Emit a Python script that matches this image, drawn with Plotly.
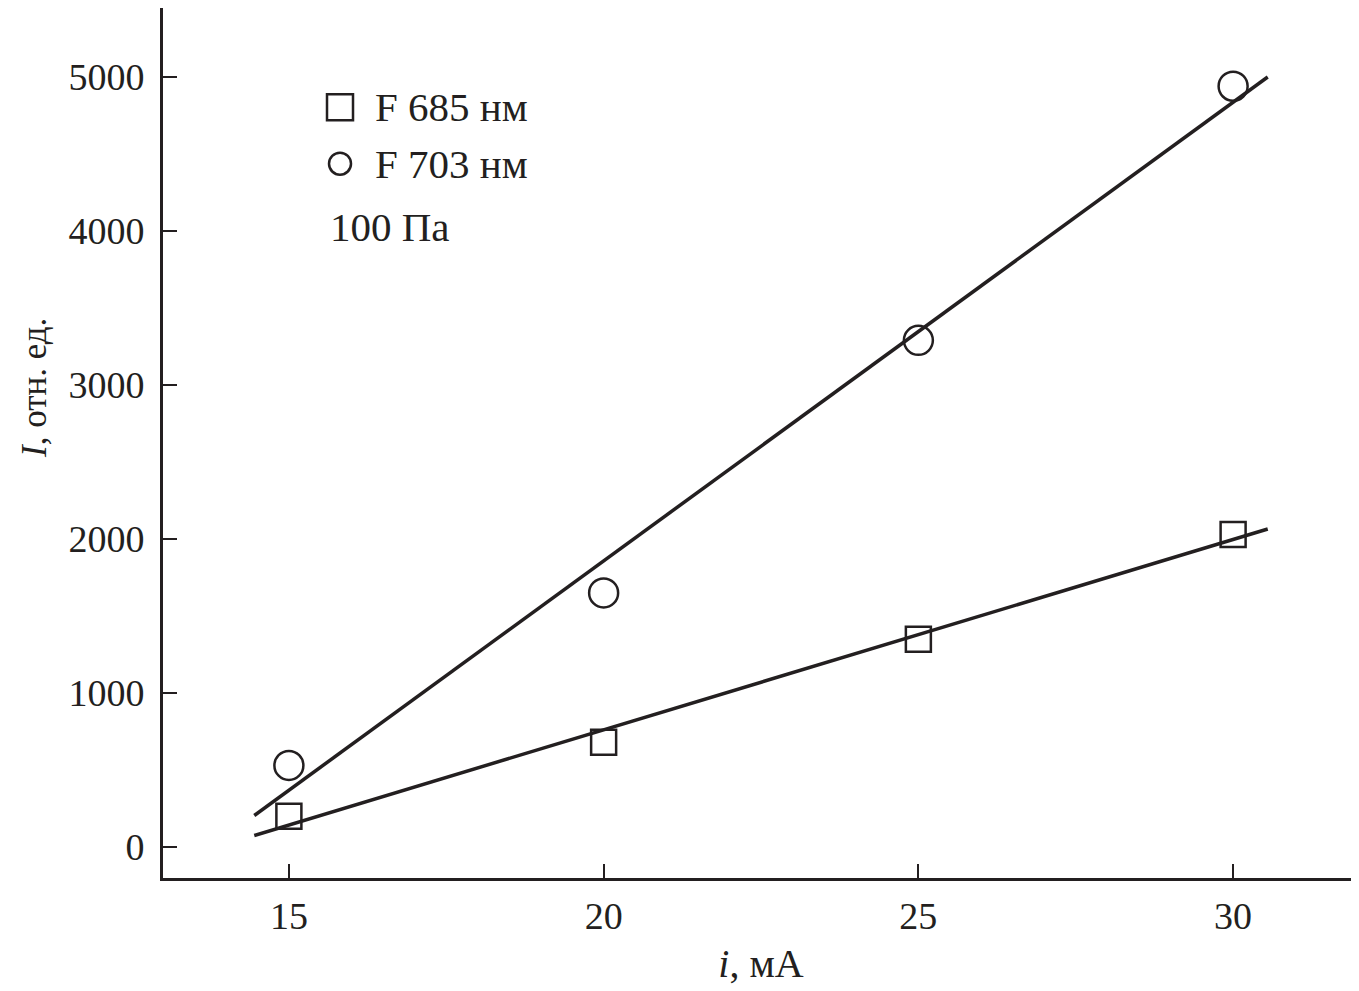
import plotly.graph_objects as go

# measured points
current = [15, 20, 25, 30]
f685 = [200, 680, 1350, 2030]
f703 = [530, 1650, 3290, 4940]

# fitted straight lines (end points)
fit_x = [14.45, 30.55]
fit685 = [75, 2065]
fit703 = [205, 5000]

x_ticks = [15, 20, 25, 30]
y_ticks = [0, 1000, 2000, 3000, 4000, 5000]

legend_labels = ["F 685 нм", "F 703 нм"]
note = "100 Па"

FONT = "Liberation Serif"
INK = "#231f20"

fig = go.Figure()

# FIT LINES
for fy in (fit703, fit685):
    fig.add_trace(
        go.Scatter(
            x=fit_x,
            y=fy,
            mode="lines",
            line=dict(color=INK, width=3.5),
            showlegend=False
        )
    )

# MARKERS
fig.add_trace(
    go.Scatter(
        x=current,
        y=f685,
        mode="markers",
        name=legend_labels[0],
        showlegend=False,
        marker=dict(symbol="square-open", size=25, color=INK,
                    line=dict(width=2.5, color=INK))
    )
)
fig.add_trace(
    go.Scatter(
        x=current,
        y=f703,
        mode="markers",
        name=legend_labels[1],
        showlegend=False,
        marker=dict(symbol="circle-open", size=29, color=INK,
                    line=dict(width=2.5, color=INK))
    )
)

# hand-made legend (symbols bigger than plotly's legend allows)
fig.add_shape(
    type="rect", xref="paper", yref="paper",
    xsizemode="pixel", ysizemode="pixel",
    xanchor=0.148, yanchor=0.886,
    x0=-13, x1=13, y0=-13, y1=13,
    line=dict(color=INK, width=2.5)
)
fig.add_shape(
    type="circle", xref="paper", yref="paper",
    xsizemode="pixel", ysizemode="pixel",
    xanchor=0.148, yanchor=0.821,
    x0=-11, x1=11, y0=-11, y1=11,
    line=dict(color=INK, width=2.5)
)
for label, ypos in zip(legend_labels, (0.886, 0.821)):
    fig.add_annotation(
        text=label,
        xref="paper", yref="paper",
        x=0.1756, y=ypos,
        xanchor="left", yanchor="middle",
        showarrow=False,
        font=dict(family=FONT, size=41, color=INK)
    )
fig.add_annotation(
    text=note,
    xref="paper", yref="paper",
    x=0.138, y=0.748,
    xanchor="left", yanchor="middle",
    showarrow=False,
    font=dict(family=FONT, size=41, color=INK)
)

# y title placed as annotation (sits above the middle in the original)
fig.add_annotation(
    text="<i>I</i>, отн. ед.",
    xref="paper", yref="paper",
    x=-0.108, y=0.563,
    xanchor="center", yanchor="middle",
    textangle=-90,
    showarrow=False,
    font=dict(family=FONT, size=35, color=INK)
)

fig.update_layout(
    width=1351,
    height=983,
    margin=dict(l=155, r=0, t=0, b=113),
    paper_bgcolor="white",
    plot_bgcolor="white",
    font=dict(family=FONT, size=38, color=INK),
    showlegend=False,
    xaxis=dict(
        range=[13, 32],
        tickvals=x_ticks,
        ticks="inside",
        ticklen=14,
        tickwidth=2,
        tickcolor=INK,
        showline=True,
        linecolor=INK,
        linewidth=3,
        showgrid=False,
        zeroline=False,
        ticklabelstandoff=2,
        tickfont=dict(size=38),
        title=dict(text="<i>i</i>, мА", font=dict(size=40), standoff=14)
    ),
    yaxis=dict(
        range=[-201, 5448],
        tickvals=y_ticks,
        ticks="inside",
        ticklen=14,
        tickwidth=2,
        tickcolor=INK,
        showline=True,
        linecolor=INK,
        linewidth=3,
        showgrid=False,
        zeroline=False,
        ticklabelstandoff=8,
        tickfont=dict(size=38)
    )
)

fig.write_html("out.html")
